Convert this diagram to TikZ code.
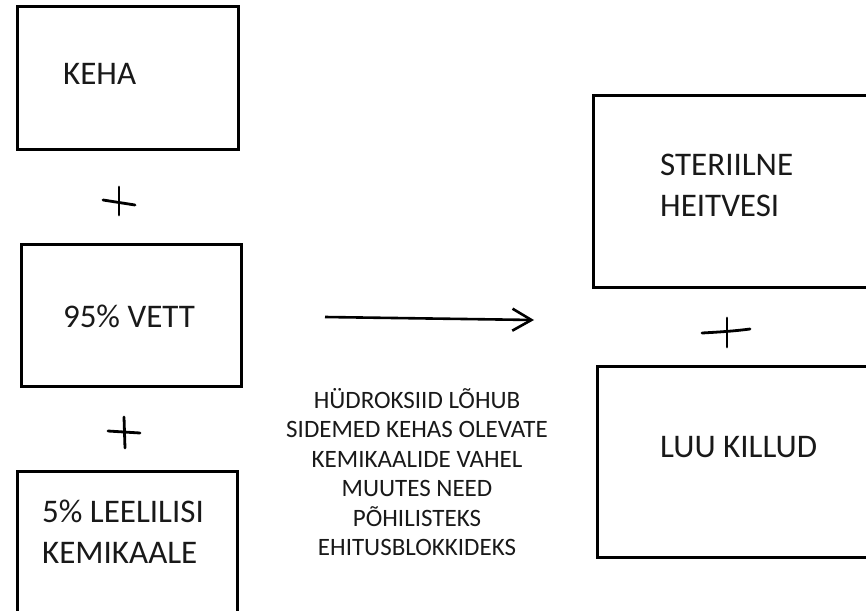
\documentclass[tikz,border=0pt]{standalone}
\usepackage{fontspec}
\setmainfont{Carlito}
\usetikzlibrary{arrows.meta}
\tikzset{
  box/.style={draw=black, line width=3pt, inner sep=0pt},
  bigtext/.style={font=\fontsize{33}{41}\selectfont, text=black!90, inner sep=0pt, align=left},
  smalltext/.style={font=\fontsize{25}{29.5}\selectfont, text=black!90, inner sep=0pt, align=center},
  plusline/.style={line width=2.8pt, draw=black, line cap=round},
  flow/.style={line width=2.6pt, draw=black, -{Straight Barb[length=19pt,width=22pt,line width=2.6pt]}}
}
\begin{document}
\begin{tikzpicture}[x=1pt,y=-1pt]
\useasboundingbox (0,0) rectangle (866,610);
\clip (0,0) rectangle (866,610);
% boxes
\node[box, minimum width=221pt, minimum height=142pt] (keha) at (127.5,78) {};
\node[box, minimum width=220pt, minimum height=142pt] (vett) at (131,315) {};
\node[box, minimum width=220pt, minimum height=160pt] (kem) at (127,551) {};
\node[box, minimum width=290pt, minimum height=192pt] (ster) at (738,191) {};
\node[box, minimum width=290pt, minimum height=191pt] (luu) at (742,461.5) {};
% texts
\node[bigtext, anchor=west] (tkeha) at (63,74) {KEHA};
\node[bigtext] (tvett) at (129,316) {95\% VETT};
\node[bigtext, anchor=west] (tkem) at (42,532) {5\% LEELILISI\\KEMIKAALE};
\node[bigtext, anchor=west] (tster) at (660,185) {STERIILNE\\HEITVESI};
\node[bigtext, anchor=west] (tluu) at (660,447) {LUU KILLUD};
\node[smalltext] (tmid) at (417,472) {HÜDROKSIID LÕHUB\\SIDEMED KEHAS OLEVATE\\KEMIKAALIDE VAHEL\\MUUTES NEED\\PÕHILISTEKS\\EHITUSBLOKKIDEKS};
% plus signs
\draw[plusline] (103,200) -- (135,205);
\draw[plusline] (119,187) -- (119,215);
\draw[plusline] (108,431) -- (140,433);
\draw[plusline] (124,417) -- (125,448);
\draw[plusline] (702,333) .. controls (720,332) and (735,331) .. (750,329);
\draw[plusline] (727,318) -- (727,347);
% arrow
\coordinate (a1) at (325,317);
\coordinate (a2) at (534,320);
\draw[flow] (a1) -- (a2);
\end{tikzpicture}
\end{document}
